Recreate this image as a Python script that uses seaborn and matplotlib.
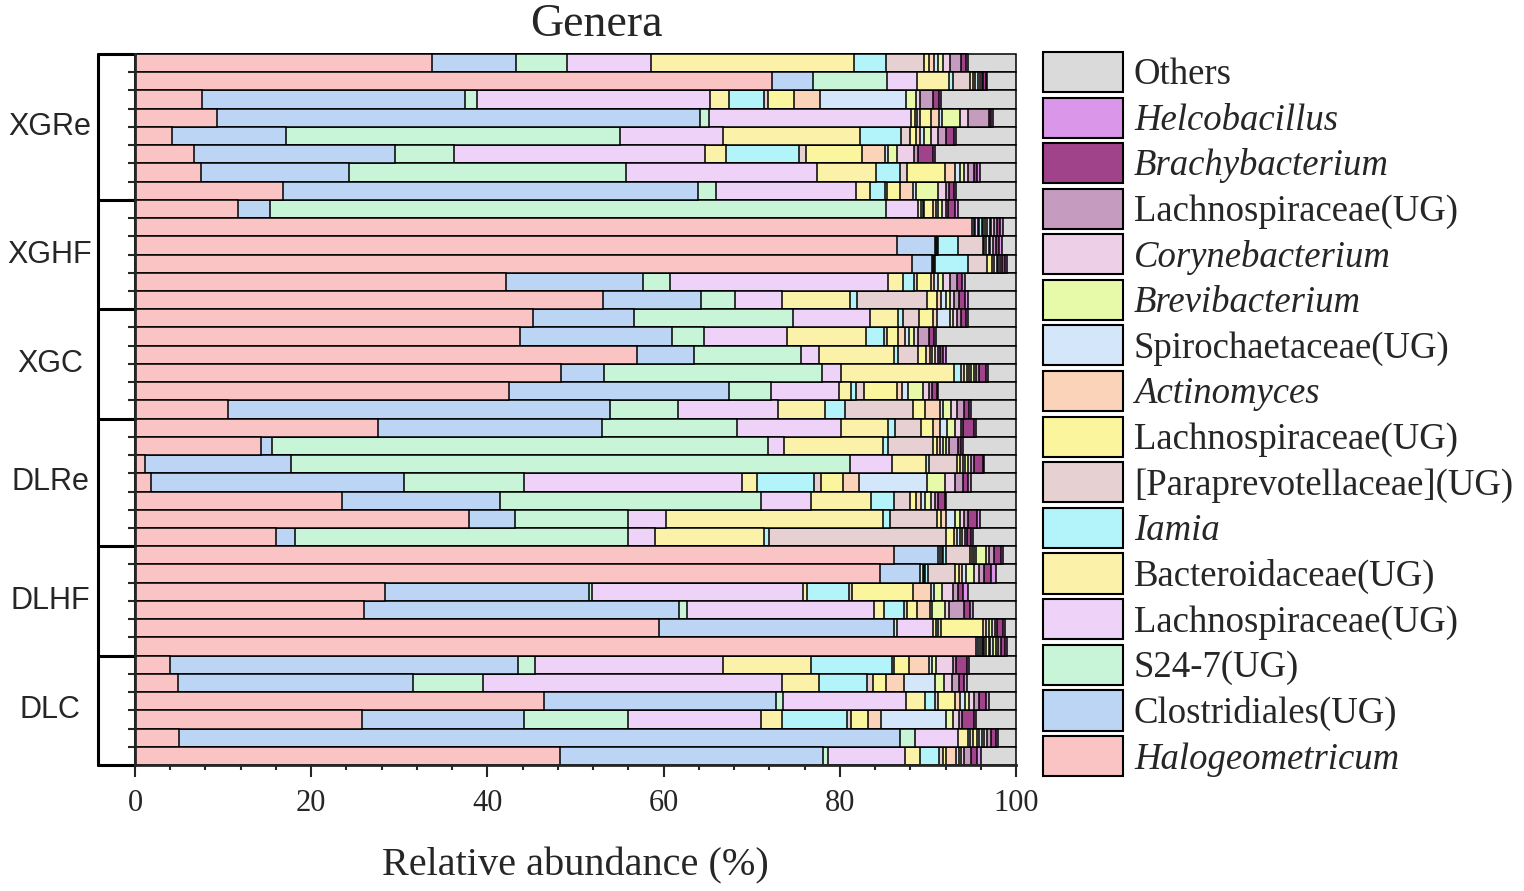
import numpy as np
import pandas as pd
import matplotlib
matplotlib.use("Agg")
import matplotlib.pyplot as plt
import matplotlib.transforms as mtransforms
from matplotlib.patches import Patch
from matplotlib.ticker import MultipleLocator
import seaborn as sns

# groups of samples, top to bottom
groups = ["XGRe", "XGHF", "XGC", "DLRe", "DLHF", "DLC"]
group_sizes = [8, 6, 6, 7, 6, 6]

# relative abundance (%) per genus, one value per sample (top to bottom)
halogeometricum = [33.7, 72.3, 7.5, 9.3, 4.2, 6.7, 7.5, 16.8, 11.7, 95.0, 86.5, 88.3, 42.1, 53.1, 45.2, 43.7, 57.1, 48.4, 42.4, 10.6, 27.7, 14.3, 1.1, 1.8, 23.5, 37.9, 16.0, 86.1, 84.6, 28.4, 26.0, 59.5, 95.6, 4.0, 4.9, 46.4, 25.8, 5.0, 48.2]
clostridiales = [9.5, 4.7, 29.7, 54.8, 12.75, 22.8, 16.8, 47.1, 3.6, 0.2, 4.3, 2.3, 15.6, 11.2, 11.4, 17.2, 6.5, 4.9, 24.9, 43.3, 25.5, 1.2, 16.6, 28.7, 17.9, 5.2, 2.2, 5.0, 4.5, 23.1, 35.7, 26.7, 0.2, 39.5, 26.7, 26.4, 18.3, 82.2, 29.9]
s24_7 = [5.8, 8.4, 1.4, 1.0, 37.65, 6.6, 31.4, 2.0, 70.0, 0.2, 0.1, 0.1, 3.0, 3.8, 18.05, 3.7, 12.2, 24.8, 4.8, 7.7, 15.3, 56.4, 63.5, 13.6, 29.7, 12.9, 37.8, 0.3, 0.3, 0.4, 0.9, 0.3, 0.2, 1.9, 7.9, 0.8, 11.9, 1.7, 0.6]
lachno_a = [9.6, 3.4, 26.2, 23.0, 11.5, 28.5, 21.7, 15.9, 3.6, 0.3, 0.1, 0.1, 24.8, 5.3, 8.75, 9.4, 2.0, 2.2, 7.7, 11.4, 11.9, 1.8, 4.7, 24.8, 5.6, 4.3, 3.0, 0.2, 0.2, 23.9, 21.3, 4.1, 0.2, 21.3, 33.9, 13.9, 15.0, 4.9, 8.7]
bacteroidaceae = [23.05, 3.6, 2.2, 0.4, 15.4, 2.4, 6.7, 1.6, 0.3, 0.1, 0.1, 0.1, 1.7, 7.8, 3.2, 9.0, 8.5, 12.8, 1.4, 5.3, 5.3, 11.2, 3.9, 1.7, 6.8, 24.6, 12.4, 0.1, 0.1, 0.5, 1.1, 0.3, 0.1, 10.0, 4.2, 2.2, 2.4, 1.1, 1.7]
iamia = [3.55, 0.5, 3.9, 0.3, 4.7, 8.2, 2.7, 1.7, 0.2, 0.3, 2.3, 3.7, 1.2, 0.7, 0.6, 2.0, 0.5, 0.9, 0.6, 2.3, 0.8, 0.6, 0.3, 6.5, 2.7, 0.8, 0.6, 0.3, 0.3, 4.7, 2.3, 0.3, 0.2, 9.2, 5.5, 1.1, 7.4, 0.3, 2.2]
paraprevotellaceae = [4.4, 1.9, 0.4, 0.3, 1.0, 0.8, 0.8, 0.3, 0.2, 0.2, 2.8, 2.2, 0.4, 8.0, 1.8, 0.4, 2.3, 0.3, 0.9, 7.7, 3.0, 5.1, 3.2, 0.8, 1.8, 5.3, 20.0, 2.8, 3.1, 0.4, 0.3, 0.3, 0.2, 0.3, 0.7, 0.3, 0.5, 0.3, 0.4]
lachno_b = [0.5, 0.3, 3.0, 1.3, 0.6, 6.3, 4.3, 1.4, 1.0, 0.2, 0.2, 0.6, 1.5, 1.1, 1.6, 1.2, 0.9, 0.3, 3.7, 1.4, 1.3, 0.4, 0.4, 2.5, 0.7, 0.5, 1.0, 0.2, 0.4, 6.9, 1.2, 4.8, 0.3, 1.6, 1.4, 2.0, 1.9, 0.4, 0.4]
actinomyces = [0.6, 0.3, 2.9, 0.9, 0.5, 2.7, 1.2, 1.5, 0.3, 0.2, 0.2, 0.2, 0.4, 0.5, 0.4, 0.8, 0.4, 0.2, 0.6, 1.7, 0.8, 0.4, 0.3, 1.8, 0.5, 0.6, 0.3, 0.2, 0.4, 2.1, 1.4, 0.3, 0.2, 2.3, 2.1, 0.5, 1.5, 0.3, 1.1]
spirochaetaceae = [0.5, 0.3, 9.7, 0.3, 0.4, 0.3, 0.5, 0.3, 0.3, 0.3, 0.3, 0.3, 0.4, 0.5, 1.5, 0.5, 0.3, 0.3, 0.7, 0.3, 0.8, 0.3, 0.2, 7.7, 0.5, 1.0, 0.3, 0.3, 0.4, 0.3, 0.3, 0.3, 0.3, 0.4, 3.5, 0.6, 7.4, 0.3, 0.3]
brevibacterium = [0.5, 0.2, 1.1, 2.0, 0.8, 1.0, 0.5, 2.6, 0.4, 0.2, 0.2, 0.2, 0.6, 0.5, 0.4, 0.5, 0.3, 0.3, 1.7, 0.9, 0.9, 0.3, 0.4, 2.0, 0.6, 0.5, 0.3, 1.1, 0.9, 0.9, 1.4, 0.4, 0.3, 0.4, 1.0, 0.5, 0.8, 0.3, 0.3]
corynebacterium = [0.8, 0.2, 0.5, 0.9, 0.8, 1.9, 0.5, 0.8, 0.4, 0.3, 0.3, 0.2, 0.8, 0.5, 0.4, 0.5, 0.3, 0.3, 0.6, 0.7, 0.7, 0.4, 0.3, 1.2, 0.5, 0.5, 0.3, 0.3, 0.6, 1.3, 0.5, 0.3, 0.3, 2.0, 0.9, 0.5, 0.6, 0.3, 0.3]
lachno_c = [1.3, 0.2, 1.4, 2.4, 0.9, 0.5, 0.6, 0.4, 0.3, 0.3, 0.3, 0.2, 0.8, 0.5, 0.5, 1.2, 0.3, 0.3, 0.4, 0.8, 0.3, 1.0, 0.3, 0.9, 0.4, 0.5, 0.2, 0.6, 0.6, 0.5, 1.7, 0.3, 0.3, 0.3, 0.8, 0.6, 0.4, 0.4, 0.8]
brachybacterium = [0.5, 0.3, 0.7, 0.3, 0.9, 1.7, 0.4, 0.6, 0.8, 0.4, 0.4, 0.4, 0.6, 0.7, 0.5, 0.6, 0.3, 0.8, 0.5, 0.6, 1.2, 0.4, 1.0, 0.6, 0.7, 1.0, 0.5, 0.8, 0.8, 0.6, 0.7, 0.6, 0.5, 1.2, 0.6, 0.8, 1.3, 0.6, 0.7]
helcobacillus = [0.3, 0.1, 0.3, 0.2, 0.3, 0.2, 0.3, 0.2, 0.3, 0.3, 0.3, 0.2, 0.3, 0.3, 0.2, 0.2, 0.3, 0.2, 0.2, 0.2, 0.3, 0.2, 0.2, 0.3, 0.2, 0.3, 0.2, 0.2, 0.5, 0.6, 0.3, 0.2, 0.2, 0.3, 0.3, 0.3, 0.3, 0.2, 0.4]
others = [5.4, 3.3, 8.4, 2.6, 6.7, 9.2, 4.1, 6.8, 6.6, 1.5, 1.6, 1.0, 5.8, 5.5, 5.5, 9.1, 8.0, 3.2, 8.8, 5.1, 4.5, 6.0, 3.6, 5.1, 7.9, 4.1, 4.9, 1.5, 2.3, 5.4, 4.9, 1.3, 1.0, 5.3, 5.6, 3.1, 4.5, 2.1, 4.0]

series = [halogeometricum, clostridiales, s24_7, lachno_a, bacteroidaceae, iamia,
          paraprevotellaceae, lachno_b, actinomyces, spirochaetaceae, brevibacterium,
          corynebacterium, lachno_c, brachybacterium, helcobacillus, others]
labels = ["Halogeometricum", "Clostridiales(UG)", "S24-7(UG)", "Lachnospiraceae(UG)",
          "Bacteroidaceae(UG)", "Iamia", "[Paraprevotellaceae](UG)", "Lachnospiraceae(UG)",
          "Actinomyces", "Spirochaetaceae(UG)", "Brevibacterium", "Corynebacterium",
          "Lachnospiraceae(UG)", "Brachybacterium", "Helcobacillus", "Others"]
italic = {"Halogeometricum", "Iamia", "Actinomyces", "Brevibacterium",
          "Corynebacterium", "Brachybacterium", "Helcobacillus"}
colors = ["#FAC4C4", "#BCD5F5", "#C8F5D8", "#EFD2F7", "#FCF1A8", "#B2F4FA",
          "#E6D0D1", "#FBF59E", "#FBD3B8", "#D3E6FA", "#E6FAAA", "#EDD0E8",
          "#C59BC0", "#A0438A", "#DA96E8", "#DADADA"]

samples = [f"{g}{i + 1}" for g, n in zip(groups, group_sizes) for i in range(n)]
keys = [f"g{i}" for i in range(len(series))]
df = pd.DataFrame(dict(zip(keys, series)), index=samples)
df = df.div(df.sum(axis=1), axis=0) * 100
cum = df.cumsum(axis=1)

sns.set_style("ticks")
plt.rcParams["font.family"] = "Liberation Serif"

fig = plt.figure(figsize=(15.24, 8.91), dpi=100)
ax = fig.add_axes([135 / 1524, 1 - 765 / 891, 881 / 1524, (765 - 54) / 891])

# stacked bars: draw cumulative totals from the right-most layer down
for j in reversed(range(len(keys))):
    sns.barplot(x=cum[keys[j]].values, y=samples, orient="h", color=colors[j],
                saturation=1, width=1, edgecolor="black", linewidth=1.1,
                errorbar=None, ax=ax)
for p in ax.patches:
    p.set_clip_on(False)

n = len(samples)
ax.set_xlim(0, 100)
ax.set_ylim(n - 0.5, -0.5)
ax.set_yticks(np.arange(0.5, n - 1, 1))
ax.set_yticklabels([])
ax.set_ylabel("")
ax.xaxis.set_major_locator(MultipleLocator(20))
ax.xaxis.set_minor_locator(MultipleLocator(4))
ax.tick_params(axis="x", which="major", length=8.6, width=1.5, labelsize=22, pad=9)
ax.tick_params(axis="x", which="minor", length=3.6, width=1.5)
ax.tick_params(axis="y", length=5, width=1.5, direction="out")
ax.set_xlabel("Relative abundance (%)", fontsize=29, labelpad=21)
for side in ["top", "right"]:
    ax.spines[side].set_visible(False)
for side in ["left", "bottom"]:
    ax.spines[side].set_linewidth(2)

# group brackets on the left
trans = mtransforms.blended_transform_factory(ax.transAxes, ax.transData)
bx = (98 - 135) / 881
bounds = np.concatenate([[-0.5], np.cumsum(group_sizes) - 0.5])
ax.plot([bx, bx], [bounds[0], bounds[-1]], transform=trans, color="black", lw=2.2, clip_on=False)
for b in bounds:
    ax.plot([bx, 0], [b, b], transform=trans, color="black", lw=2.2, clip_on=False)
for g, lo, hi in zip(groups, bounds[:-1], bounds[1:]):
    ax.text((50 - 135) / 881, (lo + hi) / 2, g, transform=trans, ha="center", va="center",
            fontsize=22, family="Liberation Sans")

fig.text(596 / 1524, 1 - 25 / 891, "Genera", ha="center", va="center", fontsize=33)

handles = [Patch(facecolor=c, edgecolor="black", linewidth=1.5) for c in colors][::-1]
leg = fig.legend(handles, labels[::-1], loc="upper left",
                 bbox_to_anchor=(1043 / 1524, 1 - 52 / 891), frameon=False,
                 fontsize=26.5, handlelength=2.17, handleheight=1.3,
                 labelspacing=0.14, handletextpad=0.3, borderpad=0, borderaxespad=0)
for t in leg.get_texts():
    if t.get_text() in italic:
        t.set_fontstyle("italic")

fig.savefig("out.png", dpi=100)
